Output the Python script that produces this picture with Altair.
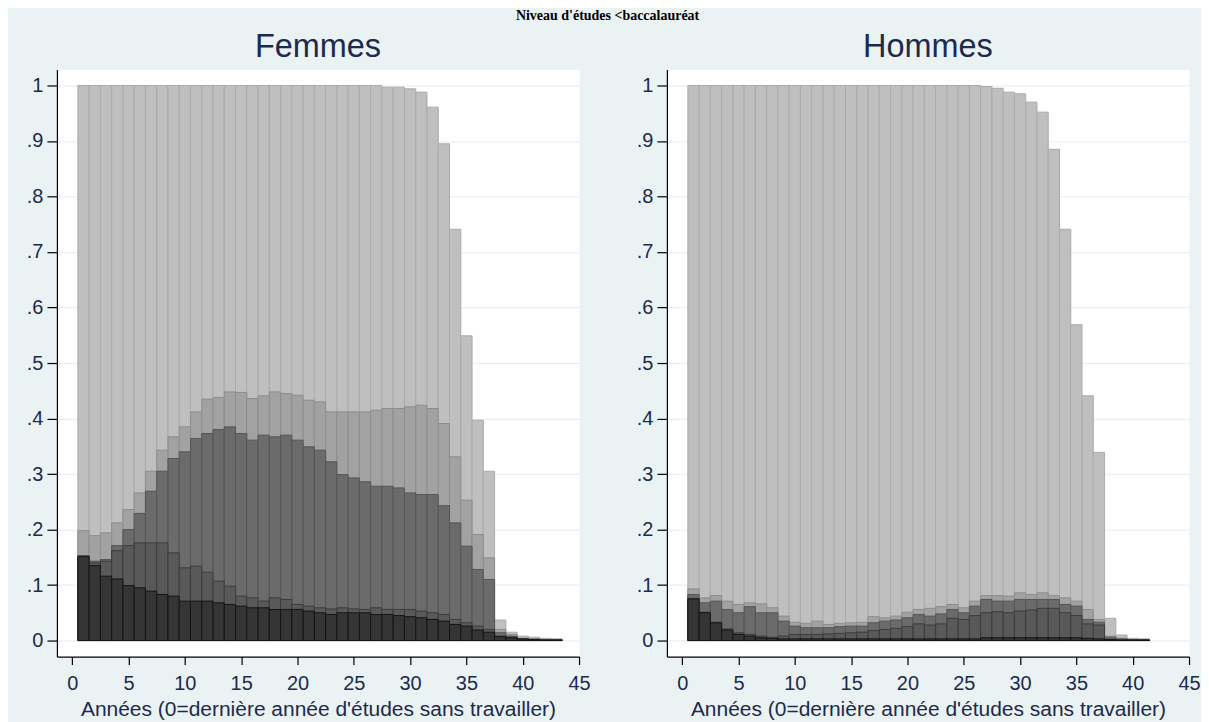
import altair as alt
import pandas as pd

# ---------------- data ----------------
years_f = list(range(1, 44))
f_A = [1.0] * 27 + [0.997, 0.997, 0.994, 0.988, 0.961, 0.895, 0.741, 0.549, 0.397, 0.305,
                    0.037, 0.015, 0.008, 0.006, 0.004, 0.003]
f_B = [0.198, 0.189, 0.194, 0.212, 0.236, 0.266, 0.305, 0.343, 0.367, 0.385,
       0.412, 0.435, 0.438, 0.448, 0.447, 0.436, 0.441, 0.448, 0.445, 0.442,
       0.433, 0.430, 0.412, 0.412, 0.412, 0.412, 0.415, 0.418, 0.418, 0.421,
       0.424, 0.418, 0.391, 0.331, 0.253, 0.191, 0.149, 0.020, 0.011, 0.004,
       0.003, 0.002, 0.002]
f_C = [0.153, 0.143, 0.146, 0.171, 0.200, 0.229, 0.269, 0.305, 0.328, 0.340,
       0.364, 0.373, 0.380, 0.385, 0.373, 0.361, 0.370, 0.367, 0.370, 0.361,
       0.349, 0.343, 0.322, 0.299, 0.293, 0.286, 0.278, 0.278, 0.275, 0.266,
       0.263, 0.263, 0.243, 0.212, 0.170, 0.128, 0.110, 0.014, 0.008, 0.003,
       0.002, 0.001, 0.001]
f_D = [0.152, 0.140, 0.143, 0.162, 0.171, 0.176, 0.176, 0.176, 0.158, 0.131,
       0.134, 0.123, 0.107, 0.098, 0.080, 0.077, 0.071, 0.077, 0.074, 0.065,
       0.062, 0.059, 0.057, 0.059, 0.057, 0.056, 0.059, 0.056, 0.056, 0.056,
       0.053, 0.050, 0.047, 0.038, 0.032, 0.026, 0.020, 0.008, 0.006, 0.003,
       0.002, 0.001, 0.001]
f_E = [0.151, 0.135, 0.116, 0.111, 0.099, 0.095, 0.089, 0.083, 0.080, 0.071,
       0.071, 0.071, 0.068, 0.065, 0.062, 0.059, 0.059, 0.056, 0.056, 0.056,
       0.053, 0.050, 0.047, 0.050, 0.050, 0.050, 0.047, 0.047, 0.045, 0.043,
       0.041, 0.038, 0.035, 0.029, 0.026, 0.019, 0.015, 0.007, 0.005, 0.003,
       0.002, 0.001, 0.001]

years_h = list(range(1, 42))
h_A = [1.0] * 26 + [0.998, 0.995, 0.988, 0.985, 0.970, 0.952, 0.885, 0.741, 0.569, 0.441,
                    0.339, 0.040, 0.010, 0.004, 0.003]
h_B = [0.093, 0.077, 0.081, 0.071, 0.065, 0.068, 0.066, 0.059, 0.044, 0.033,
       0.031, 0.035, 0.029, 0.031, 0.032, 0.033, 0.043, 0.041, 0.044, 0.051,
       0.056, 0.058, 0.061, 0.065, 0.059, 0.071, 0.081, 0.081, 0.080, 0.086,
       0.083, 0.086, 0.081, 0.077, 0.071, 0.056, 0.038, 0.008, 0.004, 0.002,
       0.001]
h_C = [0.083, 0.068, 0.071, 0.056, 0.050, 0.061, 0.050, 0.050, 0.035, 0.026,
       0.023, 0.023, 0.023, 0.025, 0.026, 0.026, 0.032, 0.035, 0.037, 0.041,
       0.047, 0.044, 0.048, 0.056, 0.050, 0.062, 0.074, 0.071, 0.071, 0.074,
       0.074, 0.074, 0.074, 0.065, 0.062, 0.038, 0.033, 0.006, 0.003, 0.001,
       0.001]
h_D = [0.076, 0.051, 0.033, 0.021, 0.014, 0.011, 0.008, 0.006, 0.008, 0.011,
       0.011, 0.011, 0.012, 0.013, 0.014, 0.015, 0.018, 0.020, 0.022, 0.025,
       0.030, 0.028, 0.030, 0.040, 0.038, 0.045, 0.050, 0.052, 0.050, 0.053,
       0.055, 0.058, 0.058, 0.050, 0.045, 0.030, 0.028, 0.002, 0.001, 0.001,
       0.001]
h_E = [0.075, 0.050, 0.032, 0.019, 0.011, 0.008, 0.005, 0.004, 0.003, 0.003,
       0.003, 0.003, 0.003, 0.003, 0.003, 0.003, 0.003, 0.003, 0.003, 0.003,
       0.003, 0.003, 0.003, 0.003, 0.003, 0.003, 0.005, 0.005, 0.005, 0.005,
       0.005, 0.005, 0.005, 0.005, 0.005, 0.004, 0.003, 0.002, 0.001, 0.001,
       0.001]

x_ticks = [0, 5, 10, 15, 20, 25, 30, 35, 40, 45]
y_ticks = [0.0, 0.1, 0.2, 0.3, 0.4, 0.5, 0.6, 0.7, 0.8, 0.9, 1.0]

main_title = "Niveau d'études <baccalauréat"
x_title = "Années (0=dernière année d'études sans travailler)"

LAYERS = ["A", "B", "C", "D", "E"]
FILLS = {"A": "#bfbfbf", "B": "#a2a2a2", "C": "#6b6b6b", "D": "#595959", "E": "#353535"}
STROKES = {"A": "#ababab", "B": "#8e8e8e", "C": "#555555", "D": "#3c3c3c", "E": "#151515"}

TXT = "#1c2a4e"
BLUE_BG = "#eaf2f3"
PW, PH = 523, 588


def long_df(years, series):
    rows = []
    for name, vals in series.items():
        for yr, v in zip(years, vals):
            rows.append({"layer": name, "x0": yr - 0.5, "x1": yr + 0.5, "v": v, "z": 0.0})
    return pd.DataFrame(rows)


xscale = alt.Scale(domain=[-1.36, 45.0], nice=False, zero=False)
yscale = alt.Scale(domain=[-0.0288, 1.0288], nice=False, zero=False)

xaxis = alt.Axis(values=x_ticks, format="d", title=x_title, grid=False,
                 domainColor="black", domainWidth=1.2, tickColor="black", tickSize=8,
                 tickWidth=1.2, labelFontSize=20, labelColor=TXT, labelPadding=9,
                 labelFont="Liberation Sans", titleFont="Liberation Sans",
                 titleFontSize=21, titleFontWeight="normal", titleColor=TXT,
                 titlePadding=5, labelFlush=False)
yaxis = alt.Axis(values=y_ticks, title=None, grid=True, gridColor="#e4edf0", gridWidth=1,
                 labelExpr="datum.value == 0 ? '0' : datum.value == 1 ? '1' : replace(format(datum.value, '.1f'), '0.', '.')",
                 domainColor="black", domainWidth=1.2, tickColor="black", tickSize=10,
                 tickWidth=1.2, labelFontSize=20, labelColor=TXT, labelPadding=4,
                 labelFont="Liberation Sans", minExtent=42, maxExtent=42)


def panel(title, years, series):
    df = long_df(years, series)
    base = alt.Chart(df)
    layers = []
    for name in LAYERS:
        layers.append(
            base.transform_filter(alt.datum.layer == name)
            .mark_bar(fill=FILLS[name], stroke=STROKES[name], strokeWidth=1)
            .encode(
                x=alt.X("x0:Q", scale=xscale, axis=xaxis),
                x2="x1",
                y=alt.Y("v:Q", scale=yscale, axis=yaxis),
                y2="z",
            )
        )
    head = (
        alt.Chart(pd.DataFrame({"t": [title]}))
        .mark_text(font="Liberation Sans", fontSize=32.5, color=TXT,
                   align="center", baseline="alphabetic")
        .encode(text="t:N", x=alt.value(PW / 2), y=alt.value(-13))
    )
    return alt.layer(*layers, head).properties(width=PW, height=PH)


femmes = panel("Femmes", years_f, {"A": f_A, "B": f_B, "C": f_C, "D": f_D, "E": f_E})
hommes = panel("Hommes", years_h, {"A": h_A, "B": h_B, "C": h_C, "D": h_D, "E": h_E})

chart = (
    alt.hconcat(femmes, hommes, spacing=88, bounds="flush")
    .properties(
        title=alt.TitleParams(main_title, fontSize=14, font="Liberation Serif",
                              fontWeight="bold", color="black", anchor="middle", offset=7),
        background=BLUE_BG,
        padding={"left": 6, "right": 0, "top": 0, "bottom": 20},
    )
    .configure_view(fill="white", stroke="transparent")
)

chart.save("out.html", embed_options={"renderer": "svg", "actions": False})
